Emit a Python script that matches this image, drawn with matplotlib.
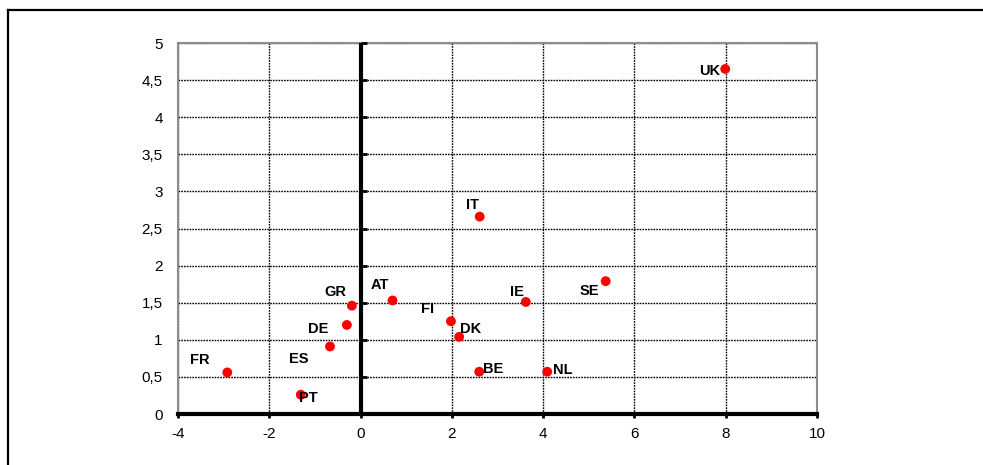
import matplotlib.pyplot as plt
import numpy as np
from matplotlib.lines import Line2D

plt.rcParams['font.family'] = ['Liberation Sans', 'DejaVu Sans']

# country data
countries = ["FR", "PT", "ES", "DE", "GR", "AT", "FI", "DK", "BE", "IE", "IT", "NL", "SE", "UK"]
x_vals = [-2.92, -1.31, -0.67, -0.30, -0.19, 0.70, 1.98, 2.16, 2.60, 3.62, 2.61, 4.09, 5.37, 7.99]
y_vals = [0.56, 0.26, 0.91, 1.20, 1.46, 1.53, 1.25, 1.04, 0.57, 1.51, 2.66, 0.57, 1.79, 4.65]
# label offsets (pixels) relative to each point
lab_dx = [-28, 8, -31, -29, -17, -13, -23, 11, 14, -9, -7, 16, -16, -16]
lab_dy = [12, -3, -13, -4, 14, 15, 12, 8, 3, 10, 12, 2, -10, -2]

xticks = np.arange(-4, 11, 2)
yticks = np.arange(0, 5.01, 0.5)

fig = plt.figure(figsize=(9.83, 4.65), dpi=100)
ax = fig.add_axes([178/983, 1-414/465, 639/983, 371/465])

# outer chart border (top and left visible)
fig.add_artist(Line2D([8/983, 1], [1-10.5/465]*2, color="black", lw=1.6, transform=fig.transFigure))
fig.add_artist(Line2D([8/983]*2, [0, 1-10.5/465], color="black", lw=1.6, transform=fig.transFigure))

ax.set_xlim(-4, 10)
ax.set_ylim(0, 5)
ax.set_xticks(xticks)
ax.set_yticks(yticks)
ax.set_xticklabels([str(int(v)) for v in xticks])
ax.set_yticklabels([("%g" % v).replace(".", ",") for v in yticks])

ax.grid(True, color="black", lw=1.0, linestyle=(0, (1.2, 0.8)))
ax.set_axisbelow(True)

for s in ["top", "right", "left"]:
    ax.spines[s].set_color("#8c8c8c")
    ax.spines[s].set_linewidth(1.5)
ax.spines["bottom"].set_color("black")
ax.spines["bottom"].set_linewidth(3)
ax.spines["bottom"].set_zorder(3)

ax.tick_params(axis="y", length=0, pad=11, labelsize=11)
ax.tick_params(axis="x", direction="out", length=3, width=2, pad=6, labelsize=11)

# vertical axis at x=0 with tick marks
ax.axvline(0, color="black", lw=3, zorder=3)
ax.plot(np.zeros(len(yticks)), yticks, linestyle="none", marker=1, markersize=4,
        mew=2, color="black", zorder=3, clip_on=False)

ax.scatter(x_vals, y_vals, s=50, color="#ff0000", zorder=4, edgecolors="none")

for name, xv, yv, dx, dy in zip(countries, x_vals, y_vals, lab_dx, lab_dy):
    ax.annotate(name, (xv, yv), xytext=(dx, dy), textcoords="offset pixels",
                ha="center", va="center", fontsize=10.5, fontweight="bold", zorder=5)

fig.savefig("out.png", dpi=100)
